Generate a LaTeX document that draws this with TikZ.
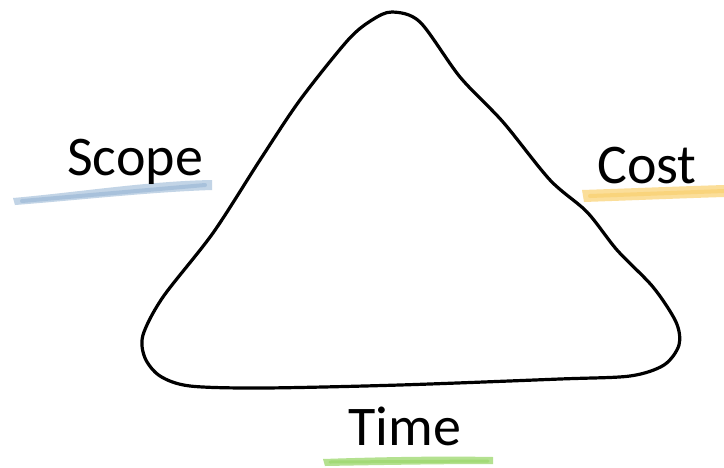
\documentclass[tikz,border=0pt]{standalone}
\usepackage{fontspec}
\setmainfont{Carlito}
\begin{document}
\begin{tikzpicture}[x=1pt,y=-1pt,
  lbl/.style={anchor=base west,inner sep=0pt,font=\fontsize{56}{60}\selectfont},
  hl/.style={line cap=round,opacity=0.35}]
\useasboundingbox[fill=white] (0,0) rectangle (724,467);
\definecolor{hlblue}{RGB}{120,160,200}
\definecolor{hlyellow}{RGB}{248,195,70}
\definecolor{hlgreen}{RGB}{130,205,70}
% highlighter strokes
\fill[hlblue,opacity=0.45] (13,198) .. controls (80,192) and (150,181) .. (212,180) -- (212,190) .. controls (150,192) and (80,200) .. (15,205) -- cycle;
\draw[hlblue,hl,line width=4pt] (22,201) -- (205,185);
\fill[hlyellow,opacity=0.55] (582,190) .. controls (640,188) and (690,186) .. (724,185) -- (724,197) .. controls (690,198) and (640,200) .. (584,202) -- cycle;
\draw[hlyellow,hl,line width=4pt] (590,196) -- (724,191);
\fill[hlgreen,opacity=0.6] (323,459) .. controls (380,457) and (440,456) .. (493,457) -- (493,464) .. controls (440,464) and (380,465) .. (325,466) -- cycle;
\draw[hlgreen,hl,line width=3pt] (330,462) -- (488,461);
% triangle
\draw[line width=3.2pt,line join=round] plot[smooth cycle,tension=0.5] coordinates {
 (392,12) (420,22) (460,77) (503,122) (550,180) (587,212)
 (617,250) (653,287) (676,322) (679,345) (664,365) (630,376)
 (560,379) (400,385) (263,388) (190,386) (160,376) (145,358) (143,335)
 (163,297) (213,233) (260,160) (300,100) (348,40) (372,20)};
\coordinate (triangle) at (410,250);
% labels
\node[lbl] (scope) at (67,175) {Scope};
\node[lbl] (cost) at (597,183) {Cost};
\node[lbl] (time) at (348,445) {Time};
\end{tikzpicture}
\end{document}
